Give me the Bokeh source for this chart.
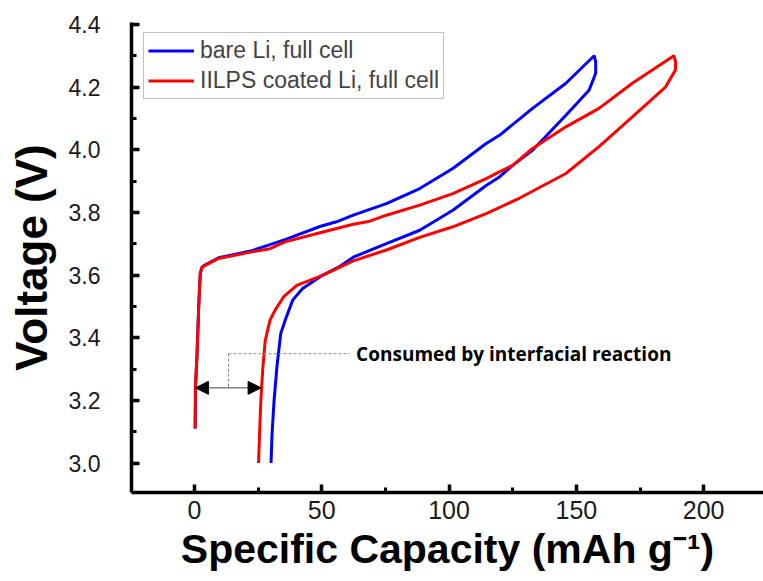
from bokeh.plotting import figure
from bokeh.models import (FixedTicker, PrintfTickFormatter, Legend, LegendItem, Arrow,
                          NormalHead, Label, Range1d)
from bokeh.embed import file_html
from bokeh.resources import INLINE

# ---------------- data ----------------
bare_x = [0.3, 0.5, 1.0, 1.7, 2.3, 3.0, 4.3, 9.5, 22.6, 29.7, 35.6, 49.3, 55.8, 62.4, 75.4, 88.5,
          101.5, 114.6, 119.8, 132.8, 145.9, 157.0,
          157.6, 157.6, 155.0, 145.9, 132.8, 125.0, 119.8, 114.6, 101.5, 88.5, 75.4, 62.4,
          56.8, 50.3, 42.5, 38.6, 35.9, 33.9, 32.4, 31.3, 30.5, 30.1]
bare_y = [3.11, 3.25, 3.34, 3.50, 3.605, 3.625, 3.633, 3.655, 3.678, 3.697, 3.713, 3.755, 3.770,
          3.791, 3.828, 3.876, 3.94, 4.02, 4.046, 4.132, 4.212, 4.30,
          4.28, 4.244, 4.19, 4.11, 3.998, 3.95, 3.913, 3.886, 3.807, 3.743, 3.70, 3.657,
          3.626, 3.599, 3.557, 3.52, 3.461, 3.413, 3.306, 3.2, 3.094, 3.0]

iilps_x = [0.3, 0.4, 1.0, 1.7, 2.3, 3.0, 4.3, 9.5, 22.6, 29.7, 35.6, 49.3, 62.4, 68.9, 75.4, 88.5,
           101.5, 114.6, 119.8, 125.0, 132.8, 145.9, 158.9, 172.0, 188.3,
           189.0, 188.9, 185.0, 172.0, 158.9, 145.9, 127.6, 114.6, 101.5, 88.5, 75.4, 62.4,
           50.3, 40.2, 35.0, 31.7, 29.7, 27.8, 26.9, 26.1, 25.6, 25.2]
iilps_y = [3.11, 3.25, 3.34, 3.50, 3.605, 3.625, 3.631, 3.653, 3.674, 3.684, 3.706, 3.735, 3.762,
           3.772, 3.791, 3.823, 3.86, 3.908, 3.929, 3.95, 4.004, 4.073, 4.132, 4.212, 4.30,
           4.28, 4.254, 4.2, 4.105, 4.01, 3.924, 3.845, 3.796, 3.754, 3.72, 3.68, 3.645,
           3.599, 3.567, 3.53, 3.488, 3.456, 3.39, 3.306, 3.2, 3.094, 3.0]

series_names = ["bare Li, full cell", "IILPS coated Li, full cell"]
series_colors = ["#0000ff", "#ff0000"]

x_ticks = [0, 50, 100, 150, 200]
x_minor = [25, 75, 125, 175]
y_ticks = [3.0, 3.2, 3.4, 3.6, 3.8, 4.0, 4.2, 4.4]
y_minor = [3.1, 3.3, 3.5, 3.7, 3.9, 4.1, 4.3]

# annotation: capacity consumed by interfacial reaction
arrow_x = [0.4, 26.2]
arrow_y = 3.24
guide_x = [13.4, 61.0]
guide_y = 3.349
note_text = "Consumed by interfacial reaction"
note_x = 63.5

# ---------------- figure ----------------
p = figure(width=763, height=581, output_backend="svg", toolbar_location=None,
           x_range=Range1d(-24.7, 223.5), y_range=Range1d(2.906, 4.406),
           min_border_left=131, min_border_right=0, min_border_top=22, min_border_bottom=89)
p.outline_line_color = None
p.grid.visible = False
p.background_fill_color = "white"
p.border_fill_color = "white"

r_bare = p.line(bare_x, bare_y, line_color=series_colors[0], line_width=3)
r_iilps = p.line(iilps_x, iilps_y, line_color=series_colors[1], line_width=3)

for ax in (p.xaxis[0], p.yaxis[0]):
    ax.axis_line_width = 3.5
    ax.axis_line_color = "black"
    ax.major_tick_line_width = 3.5
    ax.minor_tick_line_width = 3
    ax.major_tick_in = 8
    ax.major_tick_out = 0
    ax.minor_tick_in = 5
    ax.minor_tick_out = 0
    ax.major_label_text_font = "Liberation Sans"
    ax.major_label_text_color = "#1a1a1a"
    ax.axis_label_text_font = "Liberation Sans"
    ax.axis_label_text_font_style = "bold"
    ax.axis_label_text_color = "black"

p.xaxis.ticker = FixedTicker(ticks=x_ticks, minor_ticks=x_minor)
p.yaxis.ticker = FixedTicker(ticks=y_ticks, minor_ticks=y_minor)
p.yaxis.formatter = PrintfTickFormatter(format="%.1f")
p.xaxis.major_label_text_font_size = "25px"
p.yaxis.major_label_text_font_size = "23px"
p.xaxis.axis_label = "Specific Capacity (mAh g\u207b\u00b9)"
p.yaxis.axis_label = "Voltage (V)"
p.xaxis.axis_label_text_font_size = "41px"
p.yaxis.axis_label_text_font_size = "44px"
p.xaxis.major_label_standoff = 8
p.yaxis.major_label_standoff = 31
p.xaxis.axis_label_standoff = 4
p.yaxis.axis_label_standoff = 10

# annotation
p.add_layout(Arrow(start=NormalHead(size=13, fill_color="black", line_color="black"),
                   end=NormalHead(size=13, fill_color="black", line_color="black"),
                   x_start=arrow_x[0], y_start=arrow_y, x_end=arrow_x[1], y_end=arrow_y,
                   line_color="#444444", line_width=1))
p.line([guide_x[0], guide_x[1]], [guide_y, guide_y], line_color="#888888",
       line_width=1, line_dash="3 2")
p.line([guide_x[0], guide_x[0]], [guide_y, arrow_y], line_color="#888888",
       line_width=1, line_dash="3 2")
p.add_layout(Label(x=note_x, y=guide_y, text=note_text, text_font="Open Sans",
                   text_font_style="bold", text_font_size="19px", text_baseline="middle",
                   text_color="black"))

legend = Legend(items=[LegendItem(label=series_names[0], renderers=[r_bare]),
                       LegendItem(label=series_names[1], renderers=[r_iilps])],
                location=(12, 393), margin=0, padding=4, spacing=3,
                glyph_width=46, glyph_height=23, label_height=23, label_standoff=6,
                label_text_font="Liberation Sans", label_text_font_size="23px",
                border_line_color="#808080", border_line_width=1.5,
                background_fill_alpha=1)
p.add_layout(legend, "center")

open("out.html", "w").write(file_html(p, INLINE))
